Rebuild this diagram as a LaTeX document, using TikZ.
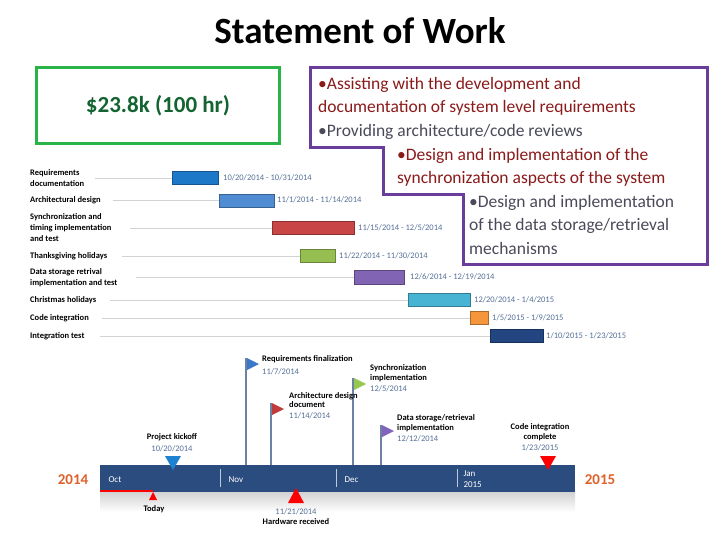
\documentclass[tikz,border=0pt]{standalone}
\usepackage{fontspec}
\setmainfont{Carlito}
\usetikzlibrary{shapes.geometric}
\definecolor{tl}{HTML}{2B4C7E}
\definecolor{dred}{HTML}{8B1A1A}
\definecolor{dgray}{HTML}{4A4A5A}
\definecolor{pur}{HTML}{6A3D9A}
\definecolor{org}{HTML}{E0612A}
\definecolor{gbox}{HTML}{28B446}
\definecolor{gtxt}{HTML}{146432}
\definecolor{c1}{HTML}{1E78C8}
\definecolor{c2}{HTML}{508CD2}
\definecolor{c3}{HTML}{C84646}
\definecolor{c4}{HTML}{96BE50}
\definecolor{c5}{HTML}{8264B4}
\definecolor{c6}{HTML}{46B4D2}
\definecolor{c7}{HTML}{F5963C}
\definecolor{c8}{HTML}{234682}
\definecolor{fb}{HTML}{3C78C8}
\definecolor{fr}{HTML}{BE3C3C}
\definecolor{fg}{HTML}{96C850}
\definecolor{fp}{HTML}{8264BE}
\definecolor{kb}{HTML}{1E82D2}
\tikzset{
  lbl/.style={font=\fontsize{8.5}{11}\selectfont\bfseries, anchor=west, align=left, inner sep=0pt},
  dt/.style={font=\fontsize{8.5}{10}\selectfont, text=tl!80, anchor=west, inner sep=0pt},
  bar/.style={draw=#1!70!black, fill=#1, line width=0.3pt},
  guide/.style={draw=gray!35, line width=0.4pt},
  ml/.style={font=\fontsize{8.5}{9.5}\selectfont\bfseries, anchor=west, align=left, inner sep=0pt},
  md/.style={font=\fontsize{8.5}{10}\selectfont, text=tl!80, anchor=west, inner sep=0pt},
  pole/.style={draw=tl!70, line width=2pt},
  bt/.style={font=\fontsize{17.5}{23.5}\selectfont, anchor=north west, align=left, inner sep=0pt}
}
\begin{document}
\begin{tikzpicture}[x=1pt,y=-1pt]
\useasboundingbox[fill=white] (0,0) rectangle (720,540);
\node[font=\fontsize{37}{40}\selectfont\bfseries] (title) at (360,31) {Statement of Work};
\node[draw=gbox, line width=3pt, minimum width=243pt, minimum height=76pt, text=gtxt, font=\fontsize{23}{26}\selectfont\bfseries] (cost) at (158,106) {\$23.8k (100 hr)};
\draw[pur, line width=3pt] (310,68) -- (707,68) -- (707,264) -- (463,264) -- (463,195) -- (383,195) -- (383,148) -- (310,148) -- cycle;
\node[bt, text=dred] (t1) at (318,77) {•Assisting with the development and\\documentation of system level requirements};
\node[bt, text=dgray] (t2) at (318,124) {•Providing architecture/code reviews};
\node[bt, text=dred] (t3) at (397,148) {•Design and implementation of the\\synchronization aspects of the system};
\node[bt, text=dgray] (t4) at (469,195) {•Design and implementation\\of the data storage/retrieval\\mechanisms};
% gantt
\node[lbl] (l1) at (30,178) {Requirements\\documentation};
\draw[guide] (95,178) -- (172,178);
\draw[bar=c1] (172,171) rectangle (218,184);
\node[dt] (d1) at (223,178) {10/20/2014 - 10/31/2014};
\node[lbl] (l2) at (30,200) {Architectural design};
\draw[guide] (113,200) -- (219,200);
\draw[bar=c2] (219,194) rectangle (274,207);
\node[dt] (d2) at (277,200) {11/1/2014 - 11/14/2014};
\node[lbl] (l3) at (30,228) {Synchronization and\\timing implementation\\and test};
\draw[guide] (130,228) -- (272,228);
\draw[bar=c3] (272,221) rectangle (354,234);
\node[dt] (d3) at (358,228) {11/15/2014 - 12/5/2014};
\node[lbl] (l4) at (30,256) {Thanksgiving holidays};
\draw[guide] (122,256) -- (300,256);
\draw[bar=c4] (300,249) rectangle (335,262);
\node[dt] (d4) at (339,256) {11/22/2014 - 11/30/2014};
\node[lbl] (l5) at (30,278) {Data storage retrival\\implementation and test};
\draw[guide] (136,277) -- (354,277);
\draw[bar=c5] (354,270) rectangle (404,284);
\node[dt] (d5) at (410,277) {12/6/2014 - 12/19/2014};
\node[lbl] (l6) at (30,300) {Christmas holidays};
\draw[guide] (110,300) -- (408,300);
\draw[bar=c6] (408,293) rectangle (470,306);
\node[dt] (d6) at (474,300) {12/20/2014 - 1/4/2015};
\node[lbl] (l7) at (30,318) {Code integration};
\draw[guide] (102,318) -- (470,318);
\draw[bar=c7] (470,311) rectangle (488,324);
\node[dt] (d7) at (492,318) {1/5/2015 - 1/9/2015};
\node[lbl] (l8) at (30,336) {Integration test};
\draw[guide] (100,336) -- (490,336);
\draw[bar=c8] (490,329) rectangle (543,342);
\node[dt] (d8) at (546,336) {1/10/2015 - 1/23/2015};
% timeline
\shade[top color=gray!35, bottom color=white] (100,492) rectangle (575,512);
\fill[tl] (100,465) rectangle (575,492);
\foreach \x in {220,336,457} \draw[white!70!tl, line width=0.8pt] (\x,469) -- (\x,487);
\node[text=white, font=\fontsize{9}{10}\selectfont, anchor=west] (oct) at (105,480) {Oct};
\node[text=white, font=\fontsize{9}{10}\selectfont, anchor=west] (nov) at (225,480) {Nov};
\node[text=white, font=\fontsize{9}{10}\selectfont, anchor=west] (dec) at (341,480) {Dec};
\node[text=white, font=\fontsize{9}{11}\selectfont, anchor=west, align=left] (jan) at (460,479) {Jan\\2015};
\node[text=org, font=\fontsize{15}{17}\selectfont\bfseries] (y1) at (73,480) {2014};
\node[text=org, font=\fontsize{15}{17}\selectfont\bfseries] (y2) at (600,480) {2015};
\draw[red, line width=2pt] (100,491) -- (153,491);
\fill[red] (149,500) -- (153,492) -- (157,500) -- cycle;
\node[ml, anchor=center] (today) at (154,509) {Today};
% poles
\draw[pole] (246,358) -- (246,465);
\fill[fb] (247,358) -- (259,364) -- (247,370) -- cycle;
\draw[pole] (271,403) -- (271,465);
\fill[fr] (272,403) -- (284,409) -- (272,415) -- cycle;
\draw[pole] (353,378) -- (353,465);
\fill[fg] (354,378) -- (366,384) -- (354,390) -- cycle;
\draw[pole] (381,425) -- (381,465);
\fill[fp] (382,425) -- (394,431) -- (382,437) -- cycle;
\node[ml] (m1) at (262,359) {Requirements finalization};
\node[md] (m1d) at (262,372) {11/7/2014};
\node[ml] (m2) at (289,400) {Architecture design\\document};
\node[md] (m2d) at (289,416) {11/14/2014};
\node[ml] (m3) at (370,373) {Synchronization\\implementation};
\node[md] (m3d) at (370,389) {12/5/2014};
\node[ml] (m4) at (397,423) {Data storage/retrieval\\implementation};
\node[md] (m4d) at (397,439) {12/12/2014};
\node[ml, anchor=center] (m5) at (172,437) {Project kickoff};
\node[md, anchor=center] (m5d) at (172,449) {10/20/2014};
\fill[kb] (165,456) -- (181,456) -- (173,470) -- cycle;
\node[ml, anchor=center, align=center] (m6) at (540,432) {Code integration\\complete};
\node[md, anchor=center] (m6d) at (540,448) {1/23/2015};
\fill[red] (540,456) -- (556,456) -- (548,470) -- cycle;
\fill[red] (288,503) -- (304,503) -- (296,488) -- cycle;
\node[md, anchor=center] (m7d) at (296,512) {11/21/2014};
\node[ml, anchor=center] (m7) at (296,522) {Hardware received};
\end{tikzpicture}
\end{document}
